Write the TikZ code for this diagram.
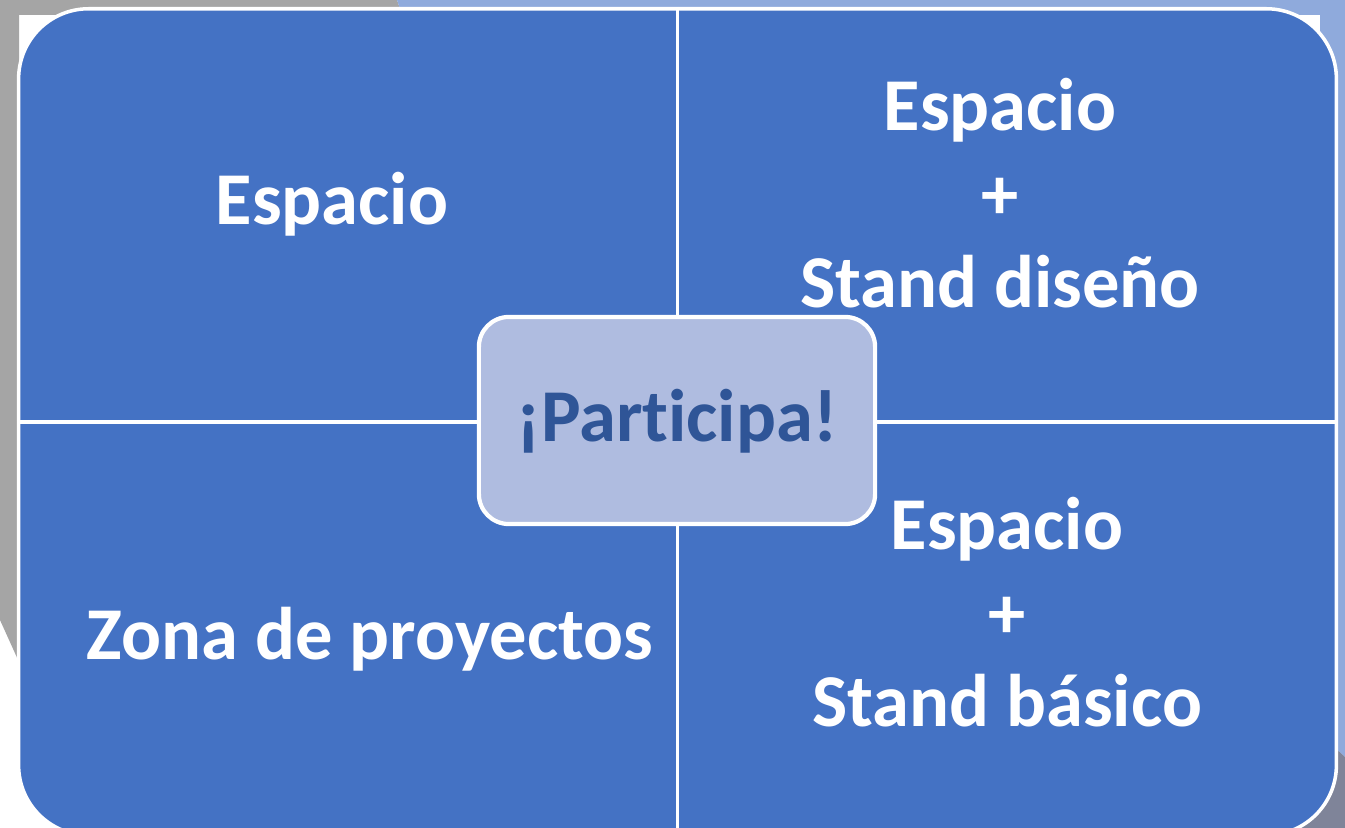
\documentclass[tikz,border=0pt]{standalone}
\usepackage{fontspec}
\setmainfont{Carlito}[Ligatures=NoCommon]
\usetikzlibrary{positioning}

\definecolor{panelblue}{HTML}{4472C4}
\definecolor{centrefill}{HTML}{AFBCE0}
\definecolor{centretext}{HTML}{2F5597}
\definecolor{backgray}{HTML}{A5A5A5}
\definecolor{backblue}{HTML}{8FAADC}
\definecolor{backdark}{HTML}{7F8499}

\tikzset{
	panel/.style={rectangle, rounded corners=0.7cm, fill=panelblue, draw=white, line width=1pt,
		minimum width=13.17cm, minimum height=8.26cm, inner sep=0pt},
	divider/.style={draw=white, line width=0.9pt},
	label/.style={text=white, font=\fontsize{21.2}{25.2}\selectfont\bfseries, align=center, anchor=base, inner sep=0pt},
	centre/.style={rectangle, rounded corners=0.3cm, fill=centrefill, draw=white, line width=1.2pt,
		minimum width=3.96cm, minimum height=2.07cm, inner sep=0pt}
}

\begin{document}
\begin{tikzpicture}[x=0.01cm, y=-0.01cm]
		%%%%% START %%%%%
		
		\useasboundingbox (0, 0) rectangle (1345, 828);
		\fill[white] (0, 0) rectangle (1345, 828);
		
		\fill[backgray] (0, 0) -- (397, 0) -- (402, 15) -- (19, 15) -- (19, 662) -- (0, 620) -- cycle;
		\fill[backblue] (397, 0) -- (1345, 0) -- (1345, 757) -- (1320, 734) -- (1320, 15) -- (402, 15) -- cycle;
		\fill[backdark] (1300, 716) -- (1345, 757) -- (1345, 828) -- (1250, 828) -- cycle;
		
		\begin{scope}
			\clip (0, 0) rectangle (1345, 828);
			\node[panel] (panel) at (677.5, 422) {};
		\end{scope}
		
		\draw[divider] (panel.north) -- (panel.south);
		\draw[divider] (panel.west) -- (panel.east);
		
		\node[label] (espacio) at (332, 225) {Espacio};
		\node[label] (diseno) at (1000, 308) {Espacio\\+\\Stand diseño};
		\node[label] (zona) at (370, 660) {Zona de proyectos};
		\node[label] (basico) at (1007, 727) {Espacio\\+\\Stand básico};
		
		\node[centre] (participa) at (677, 420.5) {};
		\node[label, text=centretext] (grito) at (677, 442) {¡Participa!};
		
		%%%%% END %%%%%
	\end{tikzpicture}
\end{document}
